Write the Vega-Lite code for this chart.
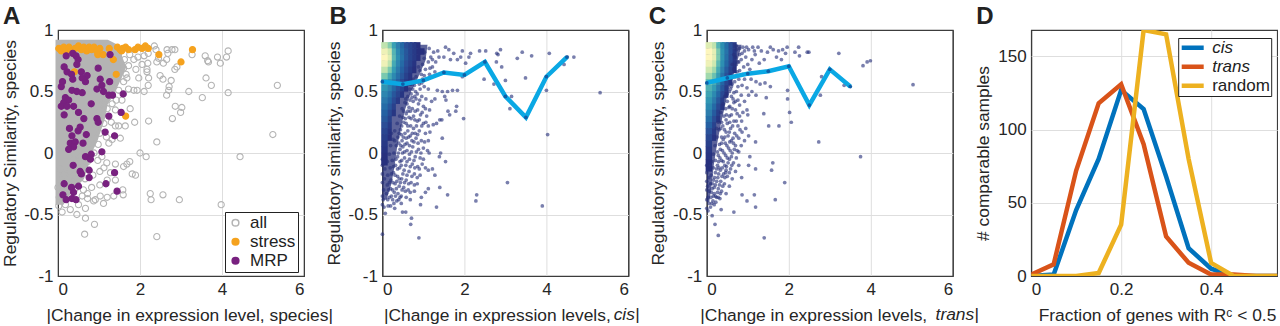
{
"$schema":"https://vega.github.io/schema/vega-lite/v6.json",
"padding":{"left":0,"top":4,"right":0,"bottom":0},
"background":"white",
"bounds":"flush",
"spacing":78.4,
"config":{"font":"Liberation Sans","view":{"stroke":"#3c3c3c","strokeWidth":1.2},
"axis":{"labelFont":"Liberation Sans","titleFont":"Liberation Sans","labelFontSize":17,"titleFontSize":17.4,"titleFontWeight":"normal","labelColor":"#262626","titleColor":"#262626","gridWidth":1,"domain":false,"ticks":false,"labelPadding":5},
"title":{"font":"Liberation Sans","fontSize":24,"fontWeight":"bold","anchor":"start","frame":"group","color":"#222"}},
"datasets":{
"hazeB":[{"y":0.88,"x0":0,"x1":1.1},{"y":0.75,"x0":0,"x1":1.05},{"y":0.6,"x0":0,"x1":0.85},{"y":0.5,"x0":0,"x1":0.7},{"y":0.35,"x0":0,"x1":0.55},{"y":0.2,"x0":0,"x1":0.45},{"y":0.05,"x0":0,"x1":0.36},{"y":-0.1,"x0":0,"x1":0.3},{"y":-0.25,"x0":0,"x1":0.22},{"y":-0.38,"x0":0,"x1":0.1}],
"hazeC":[{"y":0.88,"x0":0,"x1":0.85},{"y":0.75,"x0":0,"x1":0.75},{"y":0.6,"x0":0,"x1":0.62},{"y":0.5,"x0":0,"x1":0.52},{"y":0.35,"x0":0,"x1":0.42},{"y":0.2,"x0":0,"x1":0.32},{"y":0.05,"x0":0,"x1":0.24},{"y":-0.1,"x0":0,"x1":0.17},{"y":-0.25,"x0":0,"x1":0.12},{"y":-0.4,"x0":0,"x1":0.06}],
"areaA":[{"y":0.9,"x0":0,"x1":1.2},{"y":0.85,"x0":0,"x1":1.5},{"y":0.78,"x0":0,"x1":1.5},{"y":0.7,"x0":0,"x1":1.6},{"y":0.62,"x0":0,"x1":1.5},{"y":0.55,"x0":0,"x1":1.4},{"y":0.48,"x0":0,"x1":1.3},{"y":0.4,"x0":0,"x1":1.15},{"y":0.3,"x0":0,"x1":1.1},{"y":0.2,"x0":0,"x1":1.0},{"y":0.1,"x0":0,"x1":0.9},{"y":0.0,"x0":0,"x1":0.75},{"y":-0.1,"x0":0,"x1":0.68},{"y":-0.2,"x0":0,"x1":0.58},{"y":-0.3,"x0":0,"x1":0.3},{"y":-0.4,"x0":0,"x1":0.1}],
"ptsA":[
{"x":5.35,"y":0.55,"g":"all"},{"x":5.24,"y":0.15,"g":"all"},{"x":4.44,"y":-0.03,"g":"all"},{"x":3.98,"y":-0.42,"g":"all"},{"x":2.41,"y":-0.68,"g":"all"},{"x":0.65,"y":-0.66,"g":"all"},{"x":0.89,"y":-0.58,"g":"all"},{"x":0.67,"y":-0.53,"g":"all"},{"x":4.15,"y":0.83,"g":"all"},{"x":4.11,"y":0.78,"g":"all"},{"x":3.96,"y":0.73,"g":"all"},{"x":3.89,"y":0.78,"g":"all"},{"x":3.67,"y":0.74,"g":"all"},{"x":3.65,"y":0.75,"g":"all"},{"x":3.59,"y":0.79,"g":"all"},{"x":3.61,"y":0.61,"g":"all"},{"x":3.74,"y":0.55,"g":"all"},{"x":4.15,"y":0.49,"g":"all"},{"x":3.52,"y":0.45,"g":"all"},{"x":3.19,"y":0.5,"g":"all"},{"x":3.27,"y":0.8,"g":"all"},{"x":2.99,"y":0.33,"g":"all"},{"x":3.02,"y":0.37,"g":"all"},{"x":2.86,"y":0.38,"g":"all"},{"x":2.79,"y":0.28,"g":"all"},{"x":2.65,"y":0.47,"g":"all"},{"x":2.7,"y":0.51,"g":"all"},{"x":2.71,"y":0.54,"g":"all"},{"x":2.76,"y":0.59,"g":"all"},{"x":2.56,"y":0.6,"g":"all"},{"x":2.49,"y":0.63,"g":"all"},{"x":2.2,"y":0.55,"g":"all"},{"x":2.1,"y":0.5,"g":"all"},{"x":2.21,"y":0.26,"g":"all"},{"x":2.41,"y":0.09,"g":"all"},{"x":2.0,"y":0.0,"g":"all"},{"x":2.15,"y":-0.03,"g":"all"},{"x":2.25,"y":-0.33,"g":"all"},{"x":2.27,"y":-0.38,"g":"all"},{"x":2.56,"y":-0.34,"g":"all"},{"x":2.96,"y":-0.38,"g":"all"},{"x":1.89,"y":-0.18,"g":"all"},{"x":1.81,"y":-0.17,"g":"all"},{"x":1.75,"y":-0.07,"g":"all"},{"x":1.68,"y":-0.09,"g":"all"},{"x":1.6,"y":-0.11,"g":"all"},{"x":1.4,"y":-0.09,"g":"all"},{"x":1.58,"y":-0.3,"g":"all"},{"x":1.59,"y":-0.34,"g":"all"},{"x":1.4,"y":-0.22,"g":"all"},{"x":1.36,"y":-0.35,"g":"all"},{"x":1.2,"y":-0.36,"g":"all"},{"x":1.11,"y":-0.41,"g":"all"},{"x":1.03,"y":-0.35,"g":"all"},{"x":0.91,"y":-0.38,"g":"all"},{"x":0.87,"y":-0.39,"g":"all"},{"x":0.67,"y":-0.45,"g":"all"},{"x":0.46,"y":-0.5,"g":"all"},{"x":0.3,"y":-0.46,"g":"all"},{"x":0.1,"y":-0.48,"g":"all"},{"x":0.02,"y":-0.43,"g":"all"},{"x":0.59,"y":-0.35,"g":"all"},{"x":0.72,"y":-0.37,"g":"all"},{"x":0.5,"y":-0.42,"g":"all"},{"x":0.18,"y":-0.42,"g":"all"},
{"x":2.35,"y":0.87,"g":"all"},{"x":2.39,"y":0.84,"g":"all"},{"x":2.66,"y":0.84,"g":"all"},{"x":2.78,"y":0.84,"g":"all"},{"x":2.85,"y":0.84,"g":"all"},{"x":2.68,"y":0.81,"g":"all"},{"x":2.2,"y":0.81,"g":"all"},{"x":2.45,"y":0.77,"g":"all"},{"x":2.41,"y":0.74,"g":"all"},{"x":2.57,"y":0.73,"g":"all"},{"x":2.65,"y":0.76,"g":"all"},{"x":2.9,"y":0.7,"g":"all"},{"x":2.85,"y":0.68,"g":"all"},{"x":2.19,"y":0.73,"g":"all"},{"x":2.17,"y":0.68,"g":"all"},{"x":2.05,"y":0.72,"g":"all"},{"x":1.9,"y":0.68,"g":"all"},{"x":1.72,"y":0.71,"g":"all"},{"x":1.6,"y":0.69,"g":"all"},{"x":1.97,"y":0.61,"g":"all"},{"x":2.17,"y":0.66,"g":"all"},{"x":2.21,"y":0.61,"g":"all"},{"x":1.68,"y":0.61,"g":"all"},{"x":1.72,"y":0.52,"g":"all"},{"x":1.85,"y":0.51,"g":"all"},{"x":1.93,"y":0.51,"g":"all"},{"x":1.48,"y":0.51,"g":"all"},{"x":1.56,"y":0.43,"g":"all"},{"x":1.76,"y":0.36,"g":"all"},{"x":1.87,"y":0.25,"g":"all"},{"x":1.64,"y":0.22,"g":"all"},{"x":1.48,"y":0.22,"g":"all"},{"x":1.52,"y":0.12,"g":"all"},{"x":1.24,"y":0.08,"g":"all"},{"x":1.32,"y":0.11,"g":"all"},{"x":1.07,"y":-0.03,"g":"all"},{"x":1.19,"y":-0.08,"g":"all"},{"x":1.28,"y":-0.16,"g":"all"},
{"x":1.75,"y":0.8,"g":"all"},{"x":1.85,"y":0.76,"g":"all"},{"x":1.95,"y":0.78,"g":"all"},{"x":1.62,"y":0.76,"g":"all"},{"x":2.1,"y":0.79,"g":"all"},{"x":1.66,"y":0.64,"g":"all"},{"x":1.6,"y":0.58,"g":"all"},{"x":1.42,"y":0.43,"g":"all"},{"x":1.32,"y":0.4,"g":"all"},{"x":1.2,"y":0.36,"g":"all"},{"x":1.1,"y":0.4,"g":"all"},{"x":1.02,"y":0.34,"g":"all"},{"x":1.4,"y":0.35,"g":"all"},{"x":1.3,"y":0.25,"g":"all"},{"x":1.4,"y":0.22,"g":"all"},{"x":1.12,"y":0.24,"g":"all"},{"x":0.93,"y":0.21,"g":"all"},{"x":1.02,"y":0.16,"g":"all"},{"x":0.88,"y":0.12,"g":"all"},{"x":1.18,"y":0.13,"g":"all"},{"x":0.98,"y":0.07,"g":"all"},{"x":0.8,"y":0.07,"g":"all"},{"x":0.68,"y":0.03,"g":"all"},{"x":0.88,"y":0.0,"g":"all"},{"x":0.97,"y":-0.06,"g":"all"},{"x":0.72,"y":-0.07,"g":"all"},{"x":0.58,"y":-0.08,"g":"all"},{"x":0.45,"y":-0.12,"g":"all"},{"x":0.38,"y":-0.05,"g":"all"},{"x":1.02,"y":-0.15,"g":"all"},{"x":0.85,"y":-0.18,"g":"all"},{"x":0.66,"y":-0.21,"g":"all"},{"x":0.42,"y":-0.2,"g":"all"},{"x":0.28,"y":-0.15,"g":"all"},{"x":1.2,"y":-0.22,"g":"all"},{"x":1.02,"y":-0.26,"g":"all"},{"x":0.62,"y":-0.3,"g":"all"},{"x":0.72,"y":-0.33,"g":"all"},{"x":0.82,"y":-0.28,"g":"all"},{"x":0.25,"y":-0.3,"g":"all"},{"x":0.15,"y":-0.18,"g":"all"},{"x":0.05,"y":-0.13,"g":"all"},{"x":0.08,"y":-0.22,"g":"all"},{"x":0.0,"y":-0.28,"g":"all"},{"x":0.42,"y":-0.29,"g":"all"},{"x":0.03,"y":-0.36,"g":"all"},{"x":1.12,"y":-0.12,"g":"all"},{"x":0.55,"y":-0.03,"g":"all"},
{"x":0.02,"y":0.85,"g":"stress"},{"x":0.08,"y":0.83,"g":"stress"},{"x":0.14,"y":0.86,"g":"stress"},{"x":0.2,"y":0.84,"g":"stress"},{"x":0.27,"y":0.86,"g":"stress"},{"x":0.33,"y":0.83,"g":"stress"},{"x":0.42,"y":0.85,"g":"stress"},{"x":0.5,"y":0.87,"g":"stress"},{"x":0.57,"y":0.84,"g":"stress"},{"x":0.63,"y":0.86,"g":"stress"},{"x":0.7,"y":0.83,"g":"stress"},{"x":0.76,"y":0.86,"g":"stress"},{"x":0.82,"y":0.84,"g":"stress"},{"x":0.88,"y":0.86,"g":"stress"},{"x":0.95,"y":0.83,"g":"stress"},{"x":1.02,"y":0.85,"g":"stress"},{"x":0.97,"y":0.8,"g":"stress"},{"x":1.1,"y":0.8,"g":"stress"},{"x":1.25,"y":0.85,"g":"stress"},{"x":1.35,"y":0.76,"g":"stress"},{"x":1.42,"y":0.64,"g":"stress"},{"x":1.65,"y":0.3,"g":"stress"},{"x":0.4,"y":0.66,"g":"stress"},{"x":1.45,"y":0.86,"g":"stress"},{"x":1.52,"y":0.84,"g":"stress"},{"x":1.58,"y":0.85,"g":"stress"},{"x":1.55,"y":0.83,"g":"stress"},{"x":1.65,"y":0.86,"g":"stress"},{"x":1.72,"y":0.84,"g":"stress"},{"x":1.88,"y":0.84,"g":"stress"},{"x":1.95,"y":0.86,"g":"stress"},{"x":2.05,"y":0.85,"g":"stress"},{"x":2.13,"y":0.87,"g":"stress"},{"x":2.2,"y":0.85,"g":"stress"},{"x":2.46,"y":0.8,"g":"stress"},{"x":3.0,"y":0.74,"g":"stress"},{"x":3.28,"y":0.84,"g":"stress"},
{"x":0.2,"y":0.79,"g":"MRP"},{"x":0.36,"y":0.81,"g":"MRP"},{"x":0.44,"y":0.79,"g":"MRP"},{"x":0.49,"y":0.76,"g":"MRP"},{"x":0.46,"y":0.72,"g":"MRP"},{"x":1.27,"y":0.8,"g":"MRP"},{"x":0.15,"y":0.7,"g":"MRP"},{"x":0.22,"y":0.66,"g":"MRP"},{"x":0.33,"y":0.64,"g":"MRP"},{"x":0.36,"y":0.6,"g":"MRP"},{"x":0.57,"y":0.66,"g":"MRP"},{"x":0.71,"y":0.63,"g":"MRP"},{"x":0.59,"y":0.61,"g":"MRP"},{"x":0.67,"y":0.58,"g":"MRP"},{"x":0.98,"y":0.69,"g":"MRP"},{"x":0.11,"y":0.58,"g":"MRP"},{"x":0.08,"y":0.54,"g":"MRP"},{"x":0.34,"y":0.51,"g":"MRP"},{"x":0.46,"y":0.5,"g":"MRP"},{"x":0.59,"y":0.49,"g":"MRP"},{"x":1.03,"y":0.6,"g":"MRP"},{"x":1.26,"y":0.58,"g":"MRP"},{"x":1.07,"y":0.55,"g":"MRP"},{"x":0.95,"y":0.52,"g":"MRP"},{"x":1.11,"y":0.5,"g":"MRP"},{"x":1.24,"y":0.47,"g":"MRP"},{"x":1.33,"y":0.47,"g":"MRP"},{"x":1.59,"y":0.48,"g":"MRP"},{"x":0.18,"y":0.45,"g":"MRP"},{"x":0.26,"y":0.43,"g":"MRP"},{"x":0.14,"y":0.41,"g":"MRP"},{"x":0.08,"y":0.38,"g":"MRP"},{"x":0.22,"y":0.38,"g":"MRP"},{"x":0.38,"y":0.38,"g":"MRP"},{"x":0.81,"y":0.4,"g":"MRP"},{"x":0.15,"y":0.31,"g":"MRP"},{"x":0.5,"y":0.33,"g":"MRP"},{"x":0.63,"y":0.28,"g":"MRP"},{"x":0.95,"y":0.28,"g":"MRP"},{"x":0.98,"y":0.25,"g":"MRP"},{"x":1.24,"y":0.3,"g":"MRP"},{"x":1.54,"y":0.33,"g":"MRP"},{"x":0.28,"y":0.2,"g":"MRP"},{"x":0.54,"y":0.21,"g":"MRP"},{"x":0.49,"y":0.18,"g":"MRP"},{"x":0.34,"y":0.14,"g":"MRP"},{"x":0.69,"y":0.15,"g":"MRP"},{"x":1.15,"y":0.17,"g":"MRP"},{"x":1.38,"y":0.14,"g":"MRP"},{"x":0.3,"y":0.08,"g":"MRP"},{"x":0.42,"y":0.09,"g":"MRP"},{"x":0.61,"y":0.08,"g":"MRP"},{"x":0.38,"y":0.05,"g":"MRP"},{"x":0.26,"y":0.03,"g":"MRP"},{"x":1.07,"y":0.01,"g":"MRP"},{"x":0.67,"y":-0.03,"g":"MRP"},{"x":0.81,"y":-0.01,"g":"MRP"},{"x":0.79,"y":-0.05,"g":"MRP"},{"x":0.37,"y":-0.1,"g":"MRP"},{"x":0.54,"y":-0.15,"g":"MRP"},{"x":0.57,"y":-0.17,"g":"MRP"},{"x":0.76,"y":-0.14,"g":"MRP"},{"x":1.38,"y":-0.16,"g":"MRP"},{"x":0.76,"y":-0.2,"g":"MRP"},{"x":1.17,"y":-0.25,"g":"MRP"},{"x":0.15,"y":-0.25,"g":"MRP"},{"x":0.33,"y":-0.28,"g":"MRP"},{"x":0.5,"y":-0.27,"g":"MRP"},{"x":0.38,"y":-0.32,"g":"MRP"},{"x":1.44,"y":-0.31,"g":"MRP"},{"x":0.12,"y":-0.34,"g":"MRP"},{"x":0.34,"y":-0.37,"g":"MRP"},{"x":0.44,"y":-0.38,"g":"MRP"},{"x":0.2,"y":-0.38,"g":"MRP"}
],
"coreB":[
{"x":0.95,"y":0.825,"d":0},{"x":0.85,"y":0.875,"d":0},{"x":0.85,"y":0.825,"d":0},{"x":0.85,"y":0.775,"d":0},{"x":0.75,"y":0.875,"d":0.05},{"x":0.75,"y":0.825,"d":0.05},{"x":0.75,"y":0.775,"d":0.05},{"x":0.75,"y":0.725,"d":0.02},{"x":0.75,"y":0.675,"d":0},
{"x":0.65,"y":0.875,"d":0.1},{"x":0.65,"y":0.825,"d":0.1},{"x":0.65,"y":0.775,"d":0.1},{"x":0.65,"y":0.725,"d":0.08},{"x":0.65,"y":0.675,"d":0.05},{"x":0.65,"y":0.625,"d":0.02},{"x":0.65,"y":0.575,"d":0},
{"x":0.55,"y":0.875,"d":0.15},{"x":0.55,"y":0.825,"d":0.18},{"x":0.55,"y":0.775,"d":0.18},{"x":0.55,"y":0.725,"d":0.15},{"x":0.55,"y":0.675,"d":0.12},{"x":0.55,"y":0.625,"d":0.08},{"x":0.55,"y":0.575,"d":0.05},{"x":0.55,"y":0.525,"d":0},
{"x":0.45,"y":0.875,"d":0.25},{"x":0.45,"y":0.825,"d":0.28},{"x":0.45,"y":0.775,"d":0.3},{"x":0.45,"y":0.725,"d":0.26},{"x":0.45,"y":0.675,"d":0.22},{"x":0.45,"y":0.625,"d":0.18},{"x":0.45,"y":0.575,"d":0.12},{"x":0.45,"y":0.525,"d":0.08},{"x":0.45,"y":0.475,"d":0.03},
{"x":0.35,"y":0.875,"d":0.35},{"x":0.35,"y":0.825,"d":0.4},{"x":0.35,"y":0.775,"d":0.42},{"x":0.35,"y":0.725,"d":0.38},{"x":0.35,"y":0.675,"d":0.33},{"x":0.35,"y":0.625,"d":0.28},{"x":0.35,"y":0.575,"d":0.22},{"x":0.35,"y":0.525,"d":0.15},{"x":0.35,"y":0.475,"d":0.1},{"x":0.35,"y":0.425,"d":0.05},
{"x":0.25,"y":0.875,"d":0.5},{"x":0.25,"y":0.825,"d":0.6},{"x":0.25,"y":0.775,"d":0.62},{"x":0.25,"y":0.725,"d":0.55},{"x":0.25,"y":0.675,"d":0.48},{"x":0.25,"y":0.625,"d":0.4},{"x":0.25,"y":0.575,"d":0.33},{"x":0.25,"y":0.525,"d":0.25},{"x":0.25,"y":0.475,"d":0.18},{"x":0.25,"y":0.425,"d":0.13},{"x":0.25,"y":0.375,"d":0.08},{"x":0.25,"y":0.325,"d":0.03},
{"x":0.15,"y":0.875,"d":0.7},{"x":0.15,"y":0.825,"d":0.85},{"x":0.15,"y":0.775,"d":0.9},{"x":0.15,"y":0.725,"d":0.8},{"x":0.15,"y":0.675,"d":0.68},{"x":0.15,"y":0.625,"d":0.55},{"x":0.15,"y":0.575,"d":0.45},{"x":0.15,"y":0.525,"d":0.36},{"x":0.15,"y":0.475,"d":0.3},{"x":0.15,"y":0.425,"d":0.24},{"x":0.15,"y":0.375,"d":0.18},{"x":0.15,"y":0.325,"d":0.12},{"x":0.15,"y":0.275,"d":0.08},{"x":0.15,"y":0.225,"d":0.05},{"x":0.15,"y":0.175,"d":0.02},{"x":0.15,"y":0.125,"d":0},
{"x":0.05,"y":0.875,"d":0.8},{"x":0.05,"y":0.825,"d":0.95},{"x":0.05,"y":0.775,"d":1},{"x":0.05,"y":0.725,"d":0.95},{"x":0.05,"y":0.675,"d":0.8},{"x":0.05,"y":0.625,"d":0.68},{"x":0.05,"y":0.575,"d":0.55},{"x":0.05,"y":0.525,"d":0.45},{"x":0.05,"y":0.475,"d":0.38},{"x":0.05,"y":0.425,"d":0.32},{"x":0.05,"y":0.375,"d":0.27},{"x":0.05,"y":0.325,"d":0.22},{"x":0.05,"y":0.275,"d":0.18},{"x":0.05,"y":0.225,"d":0.14},{"x":0.05,"y":0.175,"d":0.1},{"x":0.05,"y":0.125,"d":0.07},{"x":0.05,"y":0.075,"d":0.04},{"x":0.05,"y":0.025,"d":0.02},{"x":0.05,"y":-0.025,"d":0},{"x":0.05,"y":-0.075,"d":0}],
"coreC":[
{"x":0.65,"y":0.875,"d":0.05},{"x":0.65,"y":0.825,"d":0.05},{"x":0.65,"y":0.775,"d":0.04},{"x":0.65,"y":0.725,"d":0.03},{"x":0.65,"y":0.675,"d":0},
{"x":0.55,"y":0.875,"d":0.15},{"x":0.55,"y":0.825,"d":0.15},{"x":0.55,"y":0.775,"d":0.14},{"x":0.55,"y":0.725,"d":0.12},{"x":0.55,"y":0.675,"d":0.08},{"x":0.55,"y":0.625,"d":0.05},{"x":0.55,"y":0.575,"d":0.02},
{"x":0.45,"y":0.875,"d":0.28},{"x":0.45,"y":0.825,"d":0.3},{"x":0.45,"y":0.775,"d":0.28},{"x":0.45,"y":0.725,"d":0.25},{"x":0.45,"y":0.675,"d":0.2},{"x":0.45,"y":0.625,"d":0.15},{"x":0.45,"y":0.575,"d":0.1},{"x":0.45,"y":0.525,"d":0.05},{"x":0.45,"y":0.475,"d":0.02},
{"x":0.35,"y":0.875,"d":0.42},{"x":0.35,"y":0.825,"d":0.45},{"x":0.35,"y":0.775,"d":0.45},{"x":0.35,"y":0.725,"d":0.42},{"x":0.35,"y":0.675,"d":0.36},{"x":0.35,"y":0.625,"d":0.3},{"x":0.35,"y":0.575,"d":0.24},{"x":0.35,"y":0.525,"d":0.18},{"x":0.35,"y":0.475,"d":0.12},{"x":0.35,"y":0.425,"d":0.06},{"x":0.35,"y":0.375,"d":0.02},
{"x":0.25,"y":0.875,"d":0.6},{"x":0.25,"y":0.825,"d":0.68},{"x":0.25,"y":0.775,"d":0.68},{"x":0.25,"y":0.725,"d":0.62},{"x":0.25,"y":0.675,"d":0.55},{"x":0.25,"y":0.625,"d":0.48},{"x":0.25,"y":0.575,"d":0.4},{"x":0.25,"y":0.525,"d":0.32},{"x":0.25,"y":0.475,"d":0.25},{"x":0.25,"y":0.425,"d":0.18},{"x":0.25,"y":0.375,"d":0.12},{"x":0.25,"y":0.325,"d":0.07},{"x":0.25,"y":0.275,"d":0.03},
{"x":0.15,"y":0.875,"d":0.8},{"x":0.15,"y":0.825,"d":0.92},{"x":0.15,"y":0.775,"d":0.92},{"x":0.15,"y":0.725,"d":0.85},{"x":0.15,"y":0.675,"d":0.75},{"x":0.15,"y":0.625,"d":0.65},{"x":0.15,"y":0.575,"d":0.56},{"x":0.15,"y":0.525,"d":0.48},{"x":0.15,"y":0.475,"d":0.4},{"x":0.15,"y":0.425,"d":0.33},{"x":0.15,"y":0.375,"d":0.26},{"x":0.15,"y":0.325,"d":0.2},{"x":0.15,"y":0.275,"d":0.14},{"x":0.15,"y":0.225,"d":0.09},{"x":0.15,"y":0.175,"d":0.05},{"x":0.15,"y":0.125,"d":0.02},
{"x":0.05,"y":0.875,"d":0.9},{"x":0.05,"y":0.825,"d":1},{"x":0.05,"y":0.775,"d":1},{"x":0.05,"y":0.725,"d":0.95},{"x":0.05,"y":0.675,"d":0.85},{"x":0.05,"y":0.625,"d":0.75},{"x":0.05,"y":0.575,"d":0.65},{"x":0.05,"y":0.525,"d":0.58},{"x":0.05,"y":0.475,"d":0.52},{"x":0.05,"y":0.425,"d":0.46},{"x":0.05,"y":0.375,"d":0.4},{"x":0.05,"y":0.325,"d":0.34},{"x":0.05,"y":0.275,"d":0.28},{"x":0.05,"y":0.225,"d":0.22},{"x":0.05,"y":0.175,"d":0.16},{"x":0.05,"y":0.125,"d":0.11},{"x":0.05,"y":0.075,"d":0.07},{"x":0.05,"y":0.025,"d":0.04},{"x":0.05,"y":-0.025,"d":0.02},{"x":0.05,"y":-0.075,"d":0},{"x":0.05,"y":-0.125,"d":0}],
"ptsB":[
{"x":5.31,"y":0.49},{"x":4.67,"y":0.78},{"x":4.43,"y":0.72},{"x":4.51,"y":0.78},{"x":4.07,"y":0.81},{"x":4.03,"y":0.15},{"x":4.0,"y":0.51},{"x":3.9,"y":-0.43},{"x":3.64,"y":0.79},{"x":3.41,"y":0.82},{"x":3.29,"y":0.77},{"x":3.49,"y":0.61},{"x":3.15,"y":0.46},{"x":3.11,"y":0.36},{"x":3.0,"y":0.59},{"x":3.05,"y":-0.24},{"x":2.88,"y":0.84},{"x":2.82,"y":0.8},{"x":2.78,"y":0.74},{"x":2.91,"y":0.7},{"x":2.52,"y":0.83},{"x":2.37,"y":0.83},{"x":2.48,"y":0.6},{"x":2.72,"y":0.56},{"x":2.3,"y":-0.34},{"x":2.28,"y":-0.39},{"x":2.79,"y":0.81},{"x":2.15,"y":0.81},{"x":2.11,"y":0.78},{"x":1.95,"y":0.83},{"x":1.91,"y":0.78},{"x":2.03,"y":0.73},{"x":1.83,"y":0.76},{"x":1.74,"y":0.81},{"x":1.66,"y":0.76},{"x":1.54,"y":0.86},{"x":1.62,"y":0.84},{"x":1.5,"y":0.78},{"x":1.38,"y":0.78},{"x":1.98,"y":0.28},{"x":1.81,"y":0.38},{"x":1.79,"y":0.34},{"x":1.64,"y":0.31},{"x":1.6,"y":0.34},{"x":1.83,"y":0.51},{"x":1.71,"y":0.51},{"x":1.59,"y":0.5},{"x":1.46,"y":0.5},{"x":1.34,"y":0.51},{"x":1.95,"y":0.62},{"x":1.59,"y":-0.34},{"x":1.32,"y":-0.44},{"x":0.89,"y":-0.69},{"x":0.69,"y":-0.58},{"x":0.71,"y":-0.53},{"x":0,"y":-0.66},{"x":0.07,"y":-0.49},{"x":0.49,"y":-0.48},{"x":0.57,"y":-0.48},{"x":1.4,"y":-0.28},{"x":1.54,"y":-0.07},{"x":1.42,"y":0},{"x":1.39,"y":-0.03},{"x":1.46,"y":0.12},{"x":1.45,"y":0.27},{"x":1.4,"y":0.27},{"x":1.14,"y":0},{"x":1.1,"y":0.02},{"x":1.52,"y":0.46},{"x":1.55,"y":0.43},{"x":1.28,"y":0.44},{"x":1.32,"y":0.24},{"x":1.24,"y":0.23},{"x":1.22,"y":-0.13},{"x":1.28,"y":-0.18},{"x":1.12,"y":-0.14},{"x":1.05,"y":-0.12},{"x":1.12,"y":-0.29},{"x":1.05,"y":-0.32},{"x":0.95,"y":-0.36},{"x":0.93,"y":-0.42},{"x":0.68,"y":-0.38},
{"x":1.25,"y":0.82},{"x":1.3,"y":0.74},{"x":1.18,"y":0.78},{"x":1.22,"y":0.7},{"x":1.12,"y":0.74},{"x":1.28,"y":0.66},{"x":1.15,"y":0.64},{"x":1.05,"y":0.68},{"x":1.08,"y":0.6},{"x":0.98,"y":0.72},{"x":0.95,"y":0.64},{"x":0.88,"y":0.7},{"x":0.82,"y":0.62},{"x":0.9,"y":0.56},{"x":1.02,"y":0.54},{"x":0.78,"y":0.55},{"x":1.12,"y":0.52},{"x":0.7,"y":0.48},{"x":0.85,"y":0.48},{"x":0.96,"y":0.46},{"x":1.06,"y":0.44},{"x":0.62,"y":0.46},{"x":0.75,"y":0.42},{"x":0.88,"y":0.4},{"x":1.0,"y":0.38},{"x":1.15,"y":0.35},{"x":1.2,"y":0.42},{"x":0.55,"y":0.41},{"x":0.65,"y":0.37},{"x":0.8,"y":0.34},{"x":0.93,"y":0.31},{"x":1.08,"y":0.3},{"x":0.48,"y":0.36},{"x":0.58,"y":0.32},{"x":0.7,"y":0.28},{"x":0.85,"y":0.26},{"x":1.0,"y":0.24},{"x":1.12,"y":0.22},{"x":0.42,"y":0.3},{"x":0.52,"y":0.25},{"x":0.62,"y":0.22},{"x":0.76,"y":0.2},{"x":0.9,"y":0.18},{"x":1.05,"y":0.16},{"x":0.36,"y":0.24},{"x":0.44,"y":0.19},{"x":0.55,"y":0.16},{"x":0.68,"y":0.14},{"x":0.82,"y":0.12},{"x":0.95,"y":0.1},{"x":1.12,"y":0.1},{"x":0.3,"y":0.18},{"x":0.38,"y":0.13},{"x":0.48,"y":0.1},{"x":0.6,"y":0.08},{"x":0.74,"y":0.05},{"x":0.88,"y":0.03},{"x":1.0,"y":0.04},{"x":0.26,"y":0.11},{"x":0.34,"y":0.06},{"x":0.43,"y":0.03},{"x":0.54,"y":0.01},{"x":0.66,"y":-0.01},{"x":0.8,"y":-0.03},{"x":0.92,"y":-0.04},{"x":0.2,"y":0.06},{"x":0.28,"y":0.0},{"x":0.37,"y":-0.03},{"x":0.47,"y":-0.06},{"x":0.6,"y":-0.07},{"x":0.73,"y":-0.09},{"x":0.86,"y":-0.11},{"x":0.97,"y":-0.09},{"x":0.17,"y":-0.01},{"x":0.24,"y":-0.06},{"x":0.32,"y":-0.1},{"x":0.42,"y":-0.12},{"x":0.53,"y":-0.14},{"x":0.65,"y":-0.15},{"x":0.78,"y":-0.17},{"x":0.92,"y":-0.18},{"x":0.12,"y":-0.07},{"x":0.19,"y":-0.12},{"x":0.27,"y":-0.16},{"x":0.37,"y":-0.19},{"x":0.47,"y":-0.21},{"x":0.58,"y":-0.22},{"x":0.7,"y":-0.24},{"x":0.85,"y":-0.25},{"x":0.06,"y":-0.13},{"x":0.13,"y":-0.18},{"x":0.21,"y":-0.22},{"x":0.31,"y":-0.25},{"x":0.41,"y":-0.27},{"x":0.52,"y":-0.28},{"x":0.63,"y":-0.3},{"x":0.78,"y":-0.31},{"x":0.05,"y":-0.21},{"x":0.12,"y":-0.26},{"x":0.2,"y":-0.29},{"x":0.29,"y":-0.32},{"x":0.38,"y":-0.33},{"x":0.46,"y":-0.35},{"x":0.58,"y":-0.36},{"x":0.1,"y":-0.33},{"x":0.17,"y":-0.36},{"x":0.25,"y":-0.38},{"x":0.35,"y":-0.39},{"x":0.46,"y":-0.41},{"x":0.2,"y":-0.43},{"x":0.3,"y":-0.45},{"x":0.03,"y":-0.3},{"x":0.02,"y":-0.38},{"x":0.04,"y":-0.44},{"x":0.0,"y":-0.1},{"x":0.0,"y":-0.17},{"x":0.0,"y":-0.24},{"x":0.0,"y":-0.35},{"x":0.0,"y":-0.42},{"x":0.0,"y":-0.05},{"x":0.22,"y":0.16},{"x":0.3,"y":0.1},{"x":0.4,"y":0.08},{"x":0.5,"y":0.05},{"x":0.58,"y":0.12},{"x":0.72,"y":0.1},{"x":0.46,"y":0.15},{"x":0.62,"y":0.18},{"x":0.8,"y":0.16},{"x":0.56,"y":0.28},{"x":0.68,"y":0.34},{"x":0.76,"y":0.3},{"x":0.6,"y":0.4},{"x":0.72,"y":0.45},{"x":0.82,"y":0.44},{"x":0.92,"y":0.52},{"x":0.98,"y":0.6},{"x":0.74,"y":0.52},{"x":0.66,"y":0.52},
{"x":1.03,"y":0.82},{"x":1.14,"y":0.85},{"x":1.22,"y":0.76},{"x":1.35,"y":0.83},{"x":1.02,"y":0.77},{"x":1.16,"y":0.69},{"x":0.92,"y":0.67},{"x":1.02,"y":0.63},{"x":0.85,"y":0.58},{"x":0.96,"y":0.57},{"x":0.76,"y":0.6},{"x":0.68,"y":0.56},{"x":0.81,"y":0.5},{"x":0.91,"y":0.43},{"x":0.79,"y":0.46},{"x":0.67,"y":0.43},{"x":0.57,"y":0.44},{"x":1.05,"y":0.36},{"x":0.97,"y":0.33},{"x":0.86,"y":0.35},{"x":0.73,"y":0.36},{"x":0.62,"y":0.34},{"x":0.52,"y":0.34},{"x":0.9,"y":0.27},{"x":0.79,"y":0.27},{"x":0.65,"y":0.29},{"x":0.5,"y":0.29},{"x":1.06,"y":0.25},{"x":0.96,"y":0.22},{"x":0.83,"y":0.22},{"x":0.69,"y":0.22},{"x":0.58,"y":0.24},{"x":0.47,"y":0.22},{"x":1.16,"y":0.17},{"x":0.86,"y":0.15},{"x":0.73,"y":0.16},{"x":0.64,"y":0.13},{"x":0.51,"y":0.13},{"x":0.41,"y":0.16},{"x":1.03,"y":0.09},{"x":0.87,"y":0.08},{"x":0.77,"y":0.09},{"x":0.66,"y":0.06},{"x":0.55,"y":0.07},{"x":0.45,"y":0.06},{"x":0.94,"y":0.0},{"x":0.83,"y":0.01},{"x":0.71,"y":0.01},{"x":0.6,"y":0.02},{"x":0.49,"y":0},{"x":0.39,"y":0.0},{"x":1.0,"y":-0.05},{"x":0.77,"y":-0.06},{"x":0.66,"y":-0.05},{"x":0.54,"y":-0.04},{"x":0.43,"y":-0.07},{"x":0.33,"y":-0.05},{"x":0.9,"y":-0.13},{"x":0.79,"y":-0.12},{"x":0.68,"y":-0.11},{"x":0.57,"y":-0.1},{"x":0.46,"y":-0.1},{"x":0.37,"y":-0.13},{"x":0.27,"y":-0.11},{"x":0.85,"y":-0.2},{"x":0.72,"y":-0.19},{"x":0.6,"y":-0.18},{"x":0.5,"y":-0.17},{"x":0.41,"y":-0.21},{"x":0.31,"y":-0.18},{"x":0.22,"y":-0.17},{"x":0.78,"y":-0.26},{"x":0.64,"y":-0.25},{"x":0.54,"y":-0.24},{"x":0.44,"y":-0.24},{"x":0.35,"y":-0.23},{"x":0.26,"y":-0.24},{"x":0.17,"y":-0.24},{"x":0.68,"y":-0.32},{"x":0.56,"y":-0.31},{"x":0.48,"y":-0.3},{"x":0.34,"y":-0.29},{"x":0.25,"y":-0.3},{"x":0.15,"y":-0.3},{"x":0.43,"y":-0.36},{"x":0.32,"y":-0.35},{"x":0.22,"y":-0.35},{"x":0.13,"y":-0.38},{"x":0.4,"y":-0.38},{"x":0.28,"y":-0.41},{"x":0.14,"y":-0.43}
],
"ptsC":[
{"x":5.03,"y":0.555},{"x":3.75,"y":-0.03},{"x":2.73,"y":0.09},{"x":1.4,"y":-0.69},{"x":0.28,"y":-0.67},{"x":0.2,"y":-0.58},{"x":3.99,"y":0.75},{"x":3.91,"y":0.74},{"x":3.81,"y":0.71},{"x":3.22,"y":0.81},{"x":2.49,"y":0.82},{"x":2.45,"y":0.82},{"x":2.24,"y":0.86},{"x":2.26,"y":0.79},{"x":2.15,"y":0.82},{"x":1.96,"y":0.86},{"x":1.92,"y":0.81},{"x":1.51,"y":0.22},{"x":1.76,"y":0.22},{"x":1.39,"y":0.32},{"x":2.02,"y":0.33},{"x":2.06,"y":0.25},{"x":1.97,"y":0.51},{"x":1.97,"y":0.44},{"x":1.45,"y":0.45},{"x":2.77,"y":0.47},{"x":2.8,"y":0.62},{"x":3.35,"y":0.55},{"x":1.61,"y":-0.08},{"x":1.58,"y":-0.14},{"x":1.9,"y":-0.24},{"x":1.67,"y":-0.38},{"x":1.19,"y":-0.44},{"x":1.16,"y":-0.34},{"x":0.98,"y":-0.39},{"x":0.86,"y":-0.34},{"x":0.66,"y":-0.48},{"x":0.35,"y":-0.46},{"x":0.13,"y":-0.51},{"x":1.19,"y":-0.13},{"x":1.05,"y":-0.03},{"x":1.19,"y":0.09},{"x":1.02,"y":-0.1},{"x":0.85,"y":-0.2},{"x":1.2,"y":0.47},{"x":1.1,"y":0.5},{"x":0.98,"y":0.53},{"x":1.02,"y":0.47},{"x":1.85,"y":0.84},{"x":1.75,"y":0.83},{"x":1.62,"y":0.84},{"x":1.55,"y":0.86},{"x":1.48,"y":0.82},{"x":1.7,"y":0.78},{"x":1.82,"y":0.76},{"x":1.4,"y":0.76},{"x":1.33,"y":0.83},{"x":1.25,"y":0.86},{"x":1.18,"y":0.8},{"x":1.28,"y":0.73},{"x":1.1,"y":0.76},{"x":1.02,"y":0.84},{"x":0.95,"y":0.78},{"x":0.88,"y":0.86},{"x":1.12,"y":0.86},{"x":0.8,"y":0.8},{"x":0.72,"y":0.87},{"x":1.42,"y":0.57},{"x":1.55,"y":0.54},{"x":1.3,"y":0.56},{"x":1.2,"y":0.58},{"x":1.08,"y":0.6},{"x":0.92,"y":0.6},{"x":0.86,"y":0.55},{"x":0.8,"y":0.67},{"x":0.72,"y":0.72},{"x":0.78,"y":0.6},{"x":0.7,"y":0.62},{"x":0.66,"y":0.68},{"x":0.62,"y":0.56},{"x":0.72,"y":0.5},{"x":0.84,"y":0.47},{"x":0.92,"y":0.42},{"x":0.98,"y":0.35},{"x":1.0,"y":0.31},{"x":0.88,"y":0.33},{"x":0.8,"y":0.39},{"x":0.7,"y":0.42},{"x":0.6,"y":0.46},{"x":0.55,"y":0.5},{"x":0.5,"y":0.42},{"x":0.62,"y":0.36},{"x":0.74,"y":0.32},{"x":0.85,"y":0.26},{"x":0.95,"y":0.2},{"x":1.02,"y":0.14},{"x":0.46,"y":0.36},{"x":0.55,"y":0.3},{"x":0.66,"y":0.26},{"x":0.76,"y":0.22},{"x":0.86,"y":0.17},{"x":0.92,"y":0.1},{"x":0.42,"y":0.3},{"x":0.5,"y":0.24},{"x":0.58,"y":0.2},{"x":0.68,"y":0.16},{"x":0.78,"y":0.12},{"x":0.84,"y":0.06},{"x":0.36,"y":0.25},{"x":0.43,"y":0.19},{"x":0.52,"y":0.14},{"x":0.6,"y":0.1},{"x":0.7,"y":0.06},{"x":0.78,"y":0.01},{"x":0.3,"y":0.19},{"x":0.36,"y":0.13},{"x":0.45,"y":0.08},{"x":0.53,"y":0.04},{"x":0.62,"y":0.0},{"x":0.72,"y":-0.04},{"x":0.25,"y":0.13},{"x":0.31,"y":0.07},{"x":0.38,"y":0.02},{"x":0.46,"y":-0.02},{"x":0.55,"y":-0.05},{"x":0.65,"y":-0.08},{"x":0.78,"y":-0.1},{"x":0.2,"y":0.06},{"x":0.26,"y":0.01},{"x":0.32,"y":-0.04},{"x":0.4,"y":-0.07},{"x":0.48,"y":-0.11},{"x":0.58,"y":-0.13},{"x":0.7,"y":-0.15},{"x":0.16,"y":-0.01},{"x":0.21,"y":-0.06},{"x":0.26,"y":-0.1},{"x":0.33,"y":-0.14},{"x":0.41,"y":-0.17},{"x":0.5,"y":-0.19},{"x":0.62,"y":-0.21},{"x":0.12,"y":-0.07},{"x":0.16,"y":-0.12},{"x":0.21,"y":-0.16},{"x":0.27,"y":-0.2},{"x":0.34,"y":-0.23},{"x":0.43,"y":-0.25},{"x":0.55,"y":-0.27},{"x":0.07,"y":-0.13},{"x":0.11,"y":-0.18},{"x":0.16,"y":-0.22},{"x":0.21,"y":-0.26},{"x":0.28,"y":-0.29},{"x":0.36,"y":-0.31},{"x":0.47,"y":-0.33},{"x":0.05,"y":-0.2},{"x":0.09,"y":-0.25},{"x":0.13,"y":-0.29},{"x":0.18,"y":-0.33},{"x":0.24,"y":-0.36},{"x":0.32,"y":-0.37},{"x":0.06,"y":-0.31},{"x":0.1,"y":-0.36},{"x":0.15,"y":-0.39},{"x":0.22,"y":-0.4},{"x":0.05,"y":-0.41},{"x":0.09,"y":-0.44},{"x":0.03,"y":-0.47},{"x":0,"y":-0.1},{"x":0,"y":-0.16},{"x":0,"y":-0.23},{"x":0,"y":-0.3},{"x":0,"y":-0.38},{"x":0,"y":-0.45},{"x":0.02,"y":-0.27},{"x":0.03,"y":-0.36},{"x":0.24,"y":0.2},{"x":0.28,"y":0.25},{"x":0.34,"y":0.33},{"x":0.4,"y":0.4},{"x":0.34,"y":0.2},{"x":0.48,"y":0.31},{"x":0.56,"y":0.38},{"x":0.64,"y":0.44},{"x":0.5,"y":0.48},{"x":0.44,"y":0.46},{"x":0.6,"y":0.54},{"x":0.66,"y":0.49},{"x":0.58,"y":0.62},{"x":0.62,"y":0.72},{"x":0.7,"y":0.78},{"x":0.76,"y":0.74},{"x":0.84,"y":0.76},{"x":0.9,"y":0.7},{"x":1.0,"y":0.72},{"x":0.72,"y":0.84},{"x":0.8,"y":0.85},{"x":0.92,"y":0.83},{"x":1.05,"y":0.68},{"x":0.66,"y":0.8},{"x":0.36,"y":0.08},{"x":0.28,"y":-0.02},{"x":0.44,"y":0.13},{"x":0.56,"y":0.09},{"x":0.64,"y":0.12},{"x":0.46,"y":-0.16},
{"x":0.86,"y":0.81},{"x":0.97,"y":0.86},{"x":1.16,"y":0.83},{"x":0.78,"y":0.74},{"x":0.88,"y":0.64},{"x":0.74,"y":0.66},{"x":0.68,"y":0.58},{"x":0.76,"y":0.54},{"x":0.58,"y":0.52},{"x":0.66,"y":0.41},{"x":0.76,"y":0.43},{"x":0.54,"y":0.37},{"x":0.6,"y":0.31},{"x":0.7,"y":0.35},{"x":0.8,"y":0.3},{"x":0.47,"y":0.27},{"x":0.56,"y":0.25},{"x":0.63,"y":0.22},{"x":0.72,"y":0.26},{"x":0.81,"y":0.19},{"x":0.39,"y":0.22},{"x":0.47,"y":0.17},{"x":0.55,"y":0.17},{"x":0.73,"y":0.14},{"x":0.65,"y":0.08},{"x":0.74,"y":0.02},{"x":0.4,"y":0.11},{"x":0.49,"y":0.06},{"x":0.57,"y":0.02},{"x":0.67,"y":0.03},{"x":0.33,"y":0.03},{"x":0.42,"y":0.0},{"x":0.5,"y":-0.04},{"x":0.6,"y":-0.03},{"x":0.36,"y":-0.06},{"x":0.44,"y":-0.1},{"x":0.52,"y":-0.08},{"x":0.61,"y":-0.1},{"x":0.29,"y":-0.07},{"x":0.3,"y":-0.12},{"x":0.38,"y":-0.12},{"x":0.47,"y":-0.14},{"x":0.55,"y":-0.16},{"x":0.24,"y":-0.13},{"x":0.29,"y":-0.17},{"x":0.37,"y":-0.19},{"x":0.44,"y":-0.2},{"x":0.19,"y":-0.2},{"x":0.24,"y":-0.23},{"x":0.31,"y":-0.26},{"x":0.39,"y":-0.27},{"x":0.14,"y":-0.25},{"x":0.18,"y":-0.28},{"x":0.26,"y":-0.32},{"x":0.33,"y":-0.33},{"x":0.11,"y":-0.32},{"x":0.16,"y":-0.35},{"x":0.21,"y":-0.35},{"x":0.28,"y":-0.36},{"x":0.12,"y":-0.41},{"x":0.18,"y":-0.42}
],
"lineB":[{"x":0,"y":0.58},{"x":0.5,"y":0.56},{"x":1,"y":0.59},{"x":1.5,"y":0.655},{"x":2,"y":0.635},{"x":2.5,"y":0.74},{"x":3,"y":0.46},{"x":3.5,"y":0.29},{"x":4,"y":0.62},{"x":4.5,"y":0.78}],
"lineC":[{"x":0,"y":0.57},{"x":0.5,"y":0.61},{"x":1,"y":0.645},{"x":1.5,"y":0.665},{"x":2,"y":0.705},{"x":2.5,"y":0.39},{"x":3,"y":0.68},{"x":3.5,"y":0.54}],
"linesD":[
{"x":0,"n":0,"s":"cis"},{"x":0.05,"n":1,"s":"cis"},{"x":0.1,"n":45,"s":"cis"},{"x":0.15,"n":80,"s":"cis"},{"x":0.2,"n":127,"s":"cis"},{"x":0.25,"n":114,"s":"cis"},{"x":0.3,"n":68,"s":"cis"},{"x":0.35,"n":19,"s":"cis"},{"x":0.4,"n":5,"s":"cis"},{"x":0.45,"n":0,"s":"cis"},{"x":0.5,"n":0,"s":"cis"},{"x":0.55,"n":0,"s":"cis"},
{"x":0,"n":1,"s":"trans"},{"x":0.05,"n":8,"s":"trans"},{"x":0.1,"n":72,"s":"trans"},{"x":0.15,"n":118,"s":"trans"},{"x":0.2,"n":131,"s":"trans"},{"x":0.25,"n":90,"s":"trans"},{"x":0.3,"n":27,"s":"trans"},{"x":0.35,"n":9,"s":"trans"},{"x":0.4,"n":1,"s":"trans"},{"x":0.45,"n":1,"s":"trans"},{"x":0.5,"n":0,"s":"trans"},{"x":0.55,"n":0,"s":"trans"},
{"x":0,"n":0,"s":"random"},{"x":0.05,"n":0,"s":"random"},{"x":0.1,"n":0,"s":"random"},{"x":0.15,"n":2,"s":"random"},{"x":0.2,"n":35,"s":"random"},{"x":0.25,"n":168,"s":"random"},{"x":0.3,"n":165,"s":"random"},{"x":0.35,"n":80,"s":"random"},{"x":0.4,"n":9,"s":"random"},{"x":0.45,"n":0,"s":"random"},{"x":0.5,"n":0,"s":"random"},{"x":0.55,"n":0,"s":"random"}]
},
"hconcat":[
{"width":246,"height":246,"title":{"text":"A","dx":-55,"offset":-8},
"encoding":{
"x":{"field":"x","type":"quantitative","scale":{"domain":[0,6],"nice":false},"axis":{"values":[0,2,4,6],"grid":true,"gridColor":{"condition":{"test":"datum.value==0||datum.value==6","value":"#3c3c3c"},"value":"#dedede"},"title":"|Change in expression level, species|","titleAnchor":"start","titleAlign":"left","titleX":-12,"titleY":44,"titleBaseline":"alphabetic"}},
"y":{"field":"y","type":"quantitative","scale":{"domain":[-1,1],"nice":false},"axis":{"values":[-1,-0.5,0,0.5,1],"grid":true,"gridColor":{"condition":{"test":"datum.value==1||datum.value==-1","value":"#3c3c3c"},"value":"#dedede"},"title":"Regulatory Similarity, species","titleX":-39,"labelExpr":"datum.value+''"}}},
"layer":[
{"data":{"name":"areaA"},"mark":{"type":"area","orient":"horizontal","color":"#b4b4b4","stroke":"#b4b4b4","strokeWidth":5,"clip":false},"encoding":{"x":{"field":"x1","type":"quantitative"},"x2":{"field":"x0"}}},
{"data":{"name":"ptsA"},"mark":{"type":"point","size":38,"strokeWidth":1.1,"opacity":1,"filled":false},
"encoding":{
"fill":{"field":"g","type":"nominal","scale":{"domain":["all","stress","MRP"],"range":["transparent","#f5a21e","#78217f"]},"legend":{"title":null,"orient":"none","legendX":167,"legendY":182,"fillColor":"white","strokeColor":"#222","labelFontSize":17,"labelFont":"Liberation Sans","labelColor":"#222","symbolSize":45,"rowPadding":0,"padding":2,"labelOffset":6,"clipHeight":17.5}},
"stroke":{"field":"g","type":"nominal","scale":{"domain":["all","stress","MRP"],"range":["#b4b4b4","#f5a21e","#78217f"]},"legend":{"title":null,"orient":"none","legendX":167,"legendY":182,"fillColor":"white","strokeColor":"#222","labelFontSize":17,"labelFont":"Liberation Sans","labelColor":"#222","symbolSize":45,"rowPadding":0,"padding":2,"labelOffset":6,"clipHeight":17.5}}}}
]},
{"width":246,"height":246,"title":{"text":"B","dx":-53,"offset":-8},
"encoding":{
"x":{"field":"x","type":"quantitative","scale":{"domain":[0,6],"nice":false},"axis":{"values":[0,2,4,6],"grid":true,"gridColor":{"condition":{"test":"datum.value==0||datum.value==6","value":"#3c3c3c"},"value":"#dedede"},"title":"|Change in expression levels,","titleAnchor":"start","titleAlign":"left","titleX":1,"titleY":44,"titleBaseline":"alphabetic"}},
"y":{"field":"y","type":"quantitative","scale":{"domain":[-1,1],"nice":false},"axis":{"values":[-1,-0.5,0,0.5,1],"grid":true,"gridColor":{"condition":{"test":"datum.value==1||datum.value==-1","value":"#3c3c3c"},"value":"#dedede"},"title":"Regulatory similarity, species","titleX":-39,"labelExpr":"datum.value+''"}}},
"layer":[
{"data":{"name":"hazeB"},"mark":{"type":"area","orient":"horizontal","color":"#27307a","opacity":0.75,"clip":false},"encoding":{"x":{"field":"x1","type":"quantitative"},"x2":{"field":"x0"}}},
{"data":{"name":"coreB"},"mark":{"type":"square","size":42,"opacity":1,"clip":false},"encoding":{"color":{"field":"d","type":"quantitative","legend":null,"scale":{"domain":[0,0.15,0.35,0.6,0.8,1],"range":["#27307e","#2b4f98","#2f7fae","#55b4b4","#bfe3ae","#fdf6bd"]}}}},
{"data":{"name":"ptsB"},"mark":{"type":"circle","size":14,"color":"#27307a","opacity":0.62,"clip":false}},
{"data":{"name":"lineB"},"mark":{"type":"line","color":"#0aa8e4","strokeWidth":4.5,"clip":false}},
{"data":{"name":"lineB"},"mark":{"type":"circle","size":14,"color":"#0f5fa8","opacity":1}},
{"data":{"values":[{"x":5.64,"y":-1.358,"t":"cis|"}]},"mark":{"type":"text","align":"left","baseline":"alphabetic","fontStyle":"italic","fontSize":17.4,"font":"Liberation Sans","color":"#262626","clip":false},"encoding":{"text":{"field":"t"}}}
]},
{"width":246,"height":246,"title":{"text":"C","dx":-58,"offset":-8},
"encoding":{
"x":{"field":"x","type":"quantitative","scale":{"domain":[0,6],"nice":false},"axis":{"values":[0,2,4,6],"grid":true,"gridColor":{"condition":{"test":"datum.value==0||datum.value==6","value":"#3c3c3c"},"value":"#dedede"},"title":"|Change in expression levels,","titleAnchor":"start","titleAlign":"left","titleX":-7,"titleY":44,"titleBaseline":"alphabetic"}},
"y":{"field":"y","type":"quantitative","scale":{"domain":[-1,1],"nice":false},"axis":{"values":[-1,-0.5,0,0.5,1],"grid":true,"gridColor":{"condition":{"test":"datum.value==1||datum.value==-1","value":"#3c3c3c"},"value":"#dedede"},"title":"Regulatory similarity, species","titleX":-39,"labelExpr":"datum.value+''"}}},
"layer":[
{"data":{"name":"hazeC"},"mark":{"type":"area","orient":"horizontal","color":"#27307a","opacity":0.75,"clip":false},"encoding":{"x":{"field":"x1","type":"quantitative"},"x2":{"field":"x0"}}},
{"data":{"name":"coreC"},"mark":{"type":"square","size":42,"opacity":1,"clip":false},"encoding":{"color":{"field":"d","type":"quantitative","legend":null,"scale":{"domain":[0,0.15,0.35,0.6,0.8,1],"range":["#27307e","#2b4f98","#2f7fae","#55b4b4","#bfe3ae","#fdf6bd"]}}}},
{"data":{"name":"ptsC"},"mark":{"type":"circle","size":14,"color":"#27307a","opacity":0.62,"clip":false}},
{"data":{"name":"lineC"},"mark":{"type":"line","color":"#0aa8e4","strokeWidth":4.5,"clip":false}},
{"data":{"name":"lineC"},"mark":{"type":"circle","size":14,"color":"#0f5fa8","opacity":1}},
{"data":{"values":[{"x":5.58,"y":-1.358,"t":"trans|"}]},"mark":{"type":"text","align":"left","baseline":"alphabetic","fontStyle":"italic","fontSize":17.4,"font":"Liberation Sans","color":"#262626","clip":false},"encoding":{"text":{"field":"t"}}}
]},
{"width":246,"height":246,"title":{"text":"D","dx":-55,"offset":1},
"data":{"name":"linesD"},
"mark":{"type":"line","strokeWidth":4.5,"clip":true},
"encoding":{
"x":{"field":"x","type":"quantitative","scale":{"domain":[0,0.547],"nice":false},"axis":{"values":[0,0.2,0.4],"grid":true,"gridColor":{"condition":{"test":"datum.value==0","value":"#3c3c3c"},"value":"#dedede"},"title":"Fraction of genes with Rᶜ < 0.5","titleAnchor":"start","titleAlign":"left","titleX":7,"titleY":44,"titleBaseline":"alphabetic","labelExpr":"datum.value+''"}},
"y":{"field":"n","type":"quantitative","scale":{"domain":[0,168],"nice":false},"axis":{"values":[0,50,100,150],"grid":true,"gridColor":{"condition":{"test":"datum.value==0","value":"#3c3c3c"},"value":"#dedede"},"title":"# comparable samples","titleX":-39}},
"color":{"field":"s","type":"nominal","scale":{"domain":["cis","trans","random"],"range":["#0072bd","#d95319","#edb120"]},"legend":{"title":null,"orient":"none","legendX":147,"legendY":8,"fillColor":"white","strokeColor":"#222","labelFontSize":17,"labelFont":"Liberation Sans","labelColor":"#222","symbolType":"stroke","symbolStrokeWidth":4.5,"symbolSize":484,"rowPadding":0,"padding":1,"labelOffset":6,"clipHeight":17.5,"labelFontStyle":{"expr":"datum.value=='random'?'normal':'italic'"}}}
}}
]
}
